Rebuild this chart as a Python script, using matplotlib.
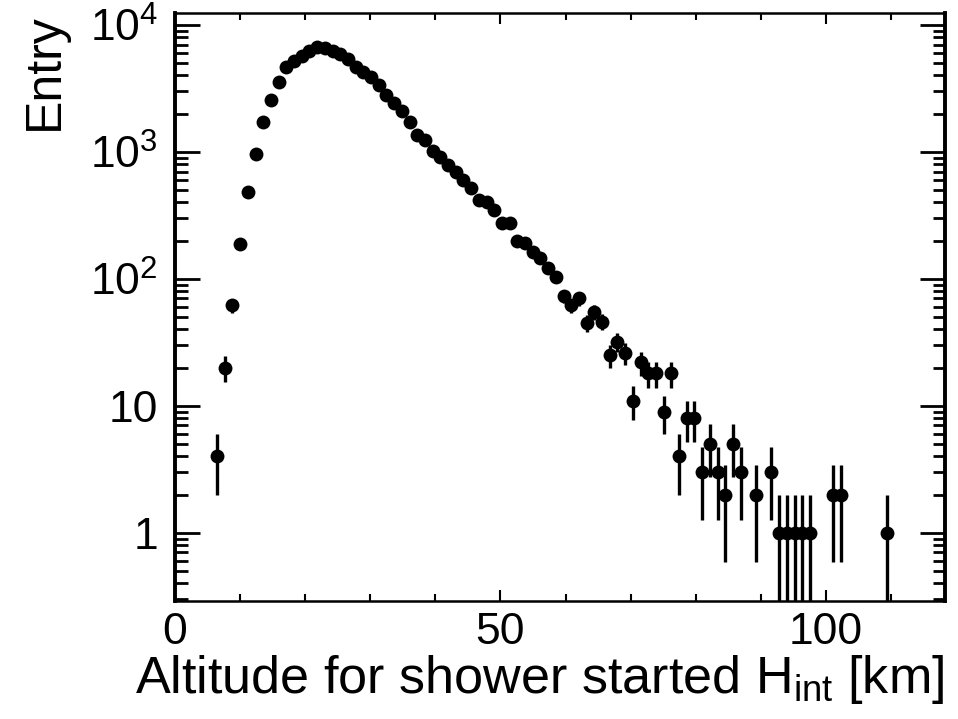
import numpy as np
import matplotlib
matplotlib.use("Agg")
import matplotlib.pyplot as plt
from matplotlib.ticker import FixedLocator, NullFormatter

plt.rcParams['font.family'] = ['Liberation Sans', 'DejaVu Sans']
plt.rcParams['mathtext.fontset'] = 'custom'
plt.rcParams['mathtext.rm'] = 'Liberation Sans'
plt.rcParams['mathtext.it'] = 'Liberation Sans:italic'

# histogram: 100 bins between 0 and ~118 km
x_min, x_max, n_bins = 0.0, 118.2, 100
counts = [0, 0, 0, 0, 0, 4, 20, 62, 188, 482,
          964, 1710, 2570, 3580, 4700, 5210, 5700, 6280, 6670, 6550,
          6280, 5880, 5370, 4700, 4290, 3870, 3370, 2810, 2420, 2090,
          1730, 1360, 1240, 1024, 918, 790, 700, 602, 518, 421,
          406, 349, 275, 275, 197, 191, 164, 146, 121, 104,
          73, 62, 70, 45, 55, 46, 25, 32, 26, 11,
          22, 18, 18, 9, 18, 4, 8, 8, 3, 5,
          3, 2, 5, 3, 0, 2, 0, 3, 1, 1,
          1, 1, 1, 0, 0, 2, 2, 0, 0, 0,
          0, 0, 1, 0, 0, 0, 0, 0, 0, 0]

ytick_vals = [1, 10, 100, 1000, 10000]
ytick_labels = ['1', '10', r'$\mathregular{10^{2}}$', r'$\mathregular{10^{3}}$', r'$\mathregular{10^{4}}$']
xtick_vals = [0, 50, 100]

edges = np.linspace(x_min, x_max, n_bins + 1)
centers = 0.5 * (edges[:-1] + edges[1:])
counts = np.array(counts, dtype=float)
sel = counts > 0
xc = centers[sel]
yc = counts[sel]
err = np.sqrt(yc)
err_lo = np.minimum(err, yc - 1e-4)

fig = plt.figure(figsize=(9.58, 7.19), dpi=100)
ax = fig.add_axes([0.1824, 0.1641, 0.9861 - 0.1824, 0.9819 - 0.1641])

ax.errorbar(xc, yc, yerr=[err_lo, err], fmt='o', color='black', ms=10,
            elinewidth=2.4, capsize=0, mew=0)

ax.set_yscale('log')
ax.set_xlim(x_min, x_max)
ax.set_ylim(0.29, 12400)

ax.yaxis.set_major_locator(FixedLocator(ytick_vals))
ax.set_yticklabels(ytick_labels)
minor_y = [m * 10.0 ** e for e in range(-1, 5) for m in range(2, 10)]
ax.yaxis.set_minor_locator(FixedLocator(minor_y))
ax.yaxis.set_minor_formatter(NullFormatter())

ax.xaxis.set_major_locator(FixedLocator(xtick_vals))
ax.xaxis.set_minor_locator(FixedLocator(np.arange(10, 120, 10)))

ax.tick_params(axis='both', which='both', direction='in', top=True, right=True,
               labelsize=32, colors='black')
ax.tick_params(axis='y', which='major', length=18, width=2.0, pad=12)
ax.tick_params(axis='y', which='minor', length=9, width=2.0)
ax.tick_params(axis='x', which='major', length=8, width=1.5, pad=8)
ax.tick_params(axis='x', which='minor', length=5, width=1.5)

for s in ['left', 'right']:
    ax.spines[s].set_linewidth(2.8)
for s in ['top', 'bottom']:
    ax.spines[s].set_linewidth(1.8)

ax.set_xlabel(r'Altitude for shower started H$_{\mathregular{int}}$ [km]',
              fontsize=37.5, loc='right', labelpad=0)
ax.set_ylabel('Entry', fontsize=36, loc='top', labelpad=16)

plt.savefig('out.png', dpi=100)
